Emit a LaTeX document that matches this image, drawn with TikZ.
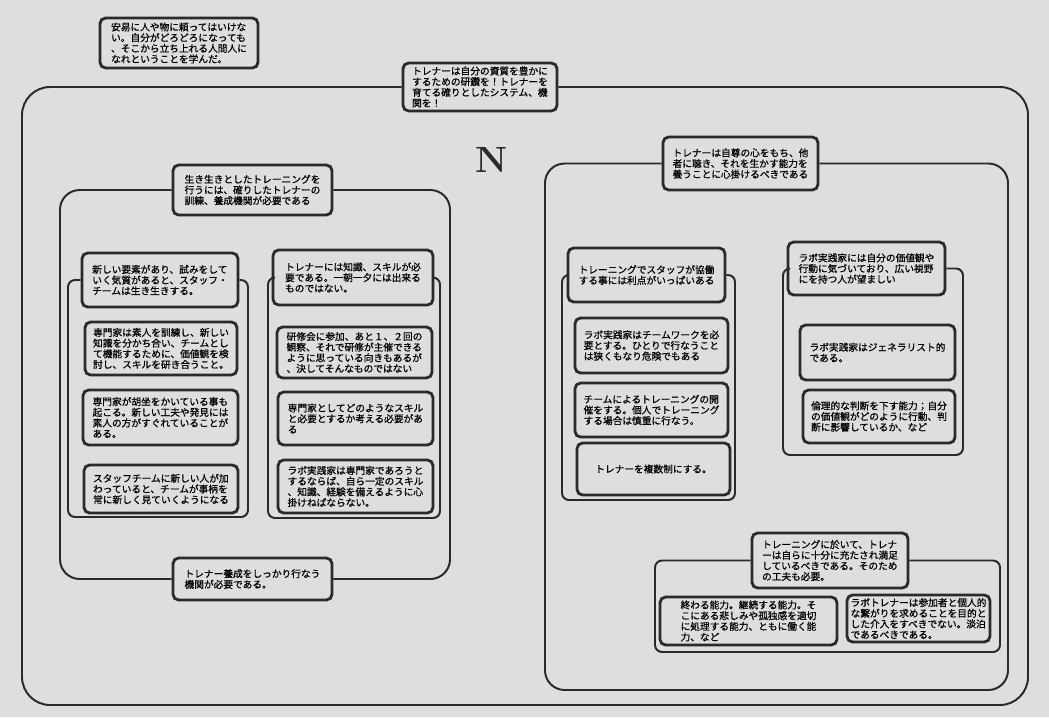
\documentclass[tikz,border=0pt]{standalone}
\usepackage{fontspec}
\usepackage{tikz}
\newfontfamily\jpfont[FakeBold=0.7]{Noto Sans CJK JP}
\definecolor{ScanInk}{HTML}{2A2A2A}
\definecolor{ScanPaper}{HTML}{DEDEDE}
\tikzset{
  card/.style={draw=ScanInk, line width=2pt, rounded corners=4pt, align=left,
               inner sep=2pt, font={\jpfont\fontsize{6.9pt}{7.6pt}\selectfont}},
  label/.style={card, fill=ScanPaper},
  frame/.style={draw=ScanInk, line width=1.4pt, rounded corners=5pt},
  group/.style={frame, rounded corners=14pt},
}

\begin{document}
\begin{tikzpicture}[x=0.25mm,y=-0.25mm]
        \fill[ScanPaper] (0,0) rectangle (1049,717);
        \useasboundingbox (0,0) rectangle (1049,717);
        % outer frame
        \node[label, minimum width=38.5mm, minimum height=12mm] (title) at (480,87)
          {トレナーは自分の資質を豊かに\\するための研鑽を！トレナーを\\育てる確りとしたシステム、機\\関を！};
        \draw[group, rounded corners=20pt] (title.west) -| (22,705) -- (1028,705) |- (title.east);
        \node[card, minimum width=39.5mm, minimum height=12.5mm] (note) at (179,43)
          {安易に人や物に頼ってはいけな\\い。自分がどろどろになっても\\、そこから立ち上れる人間人に\\なれということを学んだ。};
        \node[font={\bfseries\fontsize{26pt}{26pt}\selectfont}, text=ScanInk] (north) at (492,160) {N};
        % left group
        \node[label, minimum width=39.75mm, minimum height=12.5mm] (lhdr) at (252.5,190)
          {生き生きとしたトレーニングを\\行うには、確りしたトレナーの\\訓練、養成機関が必要である};
        \node[label, minimum width=39.75mm, minimum height=10.5mm] (lbot) at (252.5,579)
          {トレナー養成をしっかり行なう\\機関が必要である。};
        \draw[group] (lhdr.west) -| (60,579) -- (lbot.west);
        \draw[group] (lbot.east) -- (450,579) |- (lhdr.east);
        \node[label, minimum width=39mm, minimum height=13.5mm] (a1) at (160,280)
          {新しい要素があり、試みをして\\いく気質があると、スタッフ・\\チームは生き生きする。};
        \draw[frame] (a1.west) -| (68,517) -- (248,517) |- (a1.east);
        \node[card, minimum width=38mm, minimum height=13.25mm] (a2) at (161,348.5)
          {専門家は素人を訓練し、新しい\\知識を分かち合い、チームとし\\て機能するために、価値観を検\\討し、スキルを研き合うこと。};
        \node[card, minimum width=38.75mm, minimum height=13.75mm] (a3) at (160.5,417.5)
          {専門家が胡坐をかいている事も\\起こる。新しい工夫や発見には\\素人の方がすぐれていることが\\ある。};
        \node[card, minimum width=38.5mm, minimum height=12mm] (a4) at (161,489)
          {スタッフチームに新しい人が加\\わっていると、チームが事柄を\\常に新しく見ていくようになる};
        \node[label, minimum width=40mm, minimum height=13.75mm] (b1) at (353,277.5)
          {トレナーには知識、スキルが必\\要である。一朝一夕には出来る\\ものではない。};
        \draw[frame] (b1.west) -| (268,518) -- (440,518) |- (b1.east);
        \node[card, minimum width=38.75mm, minimum height=12.75mm] (b2) at (354.5,352.5)
          {研修会に参加、あと１、２回の\\観察、それで研修が主催できる\\ように思っている向きもあるが\\、決してそんなものではない};
        \node[card, minimum width=38.75mm, minimum height=13.25mm] (b3) at (355.5,418.5)
          {専門家としてどのようなスキル\\と必要とするか考える必要があ\\る};
        \node[card, minimum width=38.75mm, minimum height=13.25mm] (b4) at (355.5,486.5)
          {ラボ実践家は専門家であろうと\\するならば、自ら一定のスキル\\、知識、経験を備えるように心\\掛けねばならない。};
        % right group
        \node[label, minimum width=38.75mm, minimum height=13.25mm] (rhdr) at (740.5,163.5)
          {トレナーは自尊の心をもち、他\\者に聴き、それを生かす能力を\\養うことに心掛けるべきである};
        \draw[group] (rhdr.west) -| (545,690) -- (1008,690) |- (rhdr.east);
        \node[label, minimum width=39.25mm, minimum height=13.5mm] (c1) at (646.5,275)
          {トレーニングでスタッフが協働\\する事には利点がいっぱいある};
        \draw[frame] (c1.west) -| (562,500) -- (735,500) |- (c1.east);
        \node[card, minimum width=38.25mm, minimum height=13.75mm] (c2) at (651.5,345.5)
          {ラボ実践家はチームワークを必\\要とする。ひとりで行なうこと\\は狭くもなり危険でもある};
        \node[card, minimum width=38.25mm, minimum height=13.5mm] (c3) at (651.5,410)
          {チームによるトレーニングの開\\催をする。個人でトレーニング\\する場合は慎重に行なう。};
        \node[card, minimum width=38.25mm, minimum height=13mm] (c4) at (653.5,469)
          {トレナーを複数制にする。};
        \node[label, minimum width=39.25mm, minimum height=13.25mm] (d1) at (866.5,268.5)
          {ラボ実践家には自分の価値観や\\行動に気づいており、広い視野\\にを持つ人が望ましい};
        \draw[frame] (d1.west) -| (783,455) -- (963,455) |- (d1.east);
        \node[card, minimum width=38.75mm, minimum height=13.75mm] (d2) at (877.5,352.5)
          {ラボ実践家はジェネラリスト的\\である。};
        \node[card, minimum width=38mm, minimum height=13.25mm] (d3) at (879,416.5)
          {倫理的な判断を下す能力；自分\\の価値観がどのように行動、判\\断に影響しているか、など};
        \node[label, minimum width=39mm, minimum height=13.75mm] (ehdr) at (830,560.5)
          {トレーニングに於いて、トレナ\\ーは自らに十分に充たされ満足\\しているべきである。そのため\\の工夫も必要。};
        \draw[frame] (ehdr.west) -| (655,652) -- (1000,652) |- (ehdr.east);
        \node[card, minimum width=44.25mm, minimum height=12mm] (e1) at (748.5,621)
          {終わる能力。継続する能力。そ\\こにある悲しみや孤独感を適切\\に処理する能力、ともに働く能\\力、など};
        \node[card, minimum width=35.75mm, minimum height=11.75mm] (e2) at (918.5,618.5)
          {ラボトレナーは参加者と個人的\\な繋がりを求めることを目的と\\した介入をすべきでない。淡泊\\であるべきである。};
      \end{tikzpicture}
\end{document}
